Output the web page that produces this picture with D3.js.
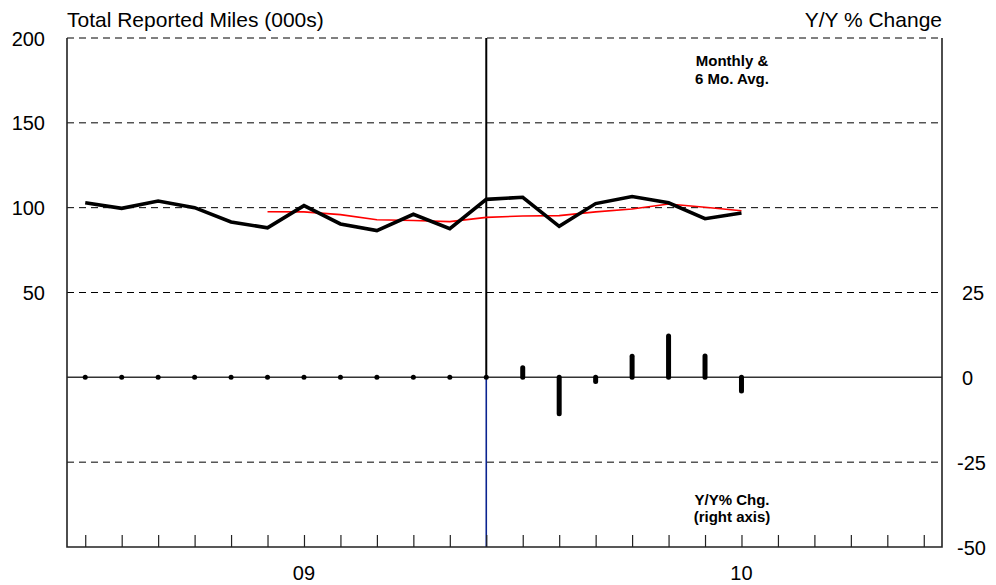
<!DOCTYPE html>
<html lang="en">
<head>
  <meta charset="UTF-8">
  <title>Total Reported Miles</title>
  <style>
    body { margin: 0; background: #fff; }
    svg { display: block; font-family: 'Liberation Sans', Arial, sans-serif; }
    .grid { stroke: #000; stroke-width: 1; stroke-dasharray: 7,5; }
    .lbl { font-size: 20px; fill: #000; }
    .ttl { font-size: 21px; fill: #000; }
    .note { font-size: 15px; font-weight: bold; fill: #000; }
  </style>
</head>
<body>
<div id="chart"></div>
<script src="https://d3js.org/d3.v7.min.js"></script>
<script>
  // months Jan-09 .. Dec-10
  var months = ["2009-01","2009-02","2009-03","2009-04","2009-05","2009-06",
                "2009-07","2009-08","2009-09","2009-10","2009-11","2009-12",
                "2010-01","2010-02","2010-03","2010-04","2010-05","2010-06",
                "2010-07","2010-08","2010-09","2010-10","2010-11","2010-12"];
  var monthly = [102.9, 99.6, 103.9, 100.0, 91.6, 88.1, 101.2, 90.4, 86.5, 96.1, 87.6, 104.9,
                 106.1, 89.0, 102.4, 106.6, 102.9, 93.5, 96.9];
  var avg6 = [null, null, null, null, null, 97.6, 97.5, 95.9, 92.9, 92.4, 91.8, 94.3,
              95.1, 95.3, 97.5, 99.2, 102.2, 100.2, 98.2];
  var yoy = [0, 0, 0, 0, 0, 0, 0, 0, 0, 0, 0, 0, 2.8, -10.7, -1.2, 6.2, 12.2, 6.3, -4.0];
  var yearLabels = [{ idx: 6, text: "09" }, { idx: 18, text: "10" }];
  var leftTicks = [50, 100, 150, 200];
  var rightTicks = [-50, -25, 0, 25];
  var gridVals = [200, 150, 100, 50, -50];
  var splitIdx = 11;

  var W = 996, H = 585;
  var L = 67, R = 942, T = 38, B = 547;

  var svg = d3.select("#chart").append("svg").attr("width", W).attr("height", H);

  var x = d3.scalePoint().domain(months).range([L, R]).padding(0.5);
  var yL = d3.scaleLinear().domain([-100, 200]).range([B, T]);
  var yR = d3.scaleLinear().domain([-50, 100]).range([B, T]);

  // dashed gridlines
  svg.selectAll("line.grid").data(gridVals).enter().append("line")
    .attr("class", "grid")
    .attr("x1", L).attr("x2", R)
    .attr("y1", function(d) { return yL(d); }).attr("y2", function(d) { return yL(d); });

  // zero line
  svg.append("line").attr("x1", L).attr("x2", R).attr("y1", yL(0)).attr("y2", yL(0))
    .attr("stroke", "#333").attr("stroke-width", 1.5);

  // split line
  svg.append("line").attr("x1", x(months[splitIdx])).attr("x2", x(months[splitIdx]))
    .attr("y1", T).attr("y2", yL(0)).attr("stroke", "#000").attr("stroke-width", 2);
  svg.append("line").attr("x1", x(months[splitIdx])).attr("x2", x(months[splitIdx]))
    .attr("y1", yL(0)).attr("y2", B).attr("stroke", "#0a2390").attr("stroke-width", 1.6);

  // frame: left, bottom, right
  svg.append("path")
    .attr("d", "M" + L + "," + T + "V" + B + "H" + R + "V" + T)
    .attr("fill", "none").attr("stroke", "#222").attr("stroke-width", 1.6);

  // bottom ticks pointing inward
  var xAxis = d3.axisTop(x).tickSize(12).tickFormat("");
  var gx = svg.append("g").attr("transform", "translate(0," + B + ")").call(xAxis);
  gx.select(".domain").remove();
  gx.selectAll(".tick line").attr("stroke", "#222").attr("stroke-width", 1.2);

  svg.selectAll("text.year").data(yearLabels).enter().append("text")
    .attr("class", "lbl").attr("text-anchor", "middle")
    .attr("x", function(d) { return x(months[d.idx]); }).attr("y", 580)
    .text(function(d) { return d.text; });

  // left labels
  svg.selectAll("text.lt").data(leftTicks).enter().append("text")
    .attr("class", "lbl").attr("text-anchor", "end")
    .attr("x", 45).attr("y", function(d) { return yL(d) + 7.5; })
    .text(function(d) { return d; });

  // right labels
  svg.selectAll("text.rt").data(rightTicks).enter().append("text")
    .attr("class", "lbl").attr("text-anchor", "start")
    .attr("x", function(d) { return d < 0 ? 957 : 962; })
    .attr("y", function(d) { return yR(d) + 7.5; })
    .text(function(d) { return d; });

  svg.append("text").attr("class", "ttl").attr("x", 67).attr("y", 27).text("Total Reported Miles (000s)");
  svg.append("text").attr("class", "ttl").attr("text-anchor", "end").attr("x", 942).attr("y", 27).text("Y/Y % Change");

  // Y/Y bars
  svg.selectAll("line.bar").data(yoy).enter().append("line")
    .attr("x1", function(d, i) { return x(months[i]); })
    .attr("x2", function(d, i) { return x(months[i]); })
    .attr("y1", yR(0))
    .attr("y2", function(d) { return yR(d); })
    .attr("stroke", "#000").attr("stroke-width", 5).attr("stroke-linecap", "round");

  // 6 mo avg
  var avgLine = d3.line()
    .defined(function(d) { return d != null; })
    .x(function(d, i) { return x(months[i]); })
    .y(function(d) { return yL(d); });
  svg.append("path").datum(avg6).attr("d", avgLine)
    .attr("fill", "none").attr("stroke", "#ff0000").attr("stroke-width", 1.6);

  // monthly
  var mLine = d3.line()
    .x(function(d, i) { return x(months[i]); })
    .y(function(d) { return yL(d); });
  svg.append("path").datum(monthly).attr("d", mLine)
    .attr("fill", "none").attr("stroke", "#000").attr("stroke-width", 3.6)
    .attr("stroke-linejoin", "miter");

  // notes
  svg.append("text").attr("class", "note").attr("text-anchor", "middle").attr("x", 732).attr("y", 66).text("Monthly &");
  svg.append("text").attr("class", "note").attr("text-anchor", "middle").attr("x", 732).attr("y", 84).text("6 Mo. Avg.");
  svg.append("text").attr("class", "note").attr("text-anchor", "middle").attr("x", 732).attr("y", 505).text("Y/Y% Chg.");
  svg.append("text").attr("class", "note").attr("text-anchor", "middle").attr("x", 732).attr("y", 522).text("(right axis)");
</script>
</body>
</html>
